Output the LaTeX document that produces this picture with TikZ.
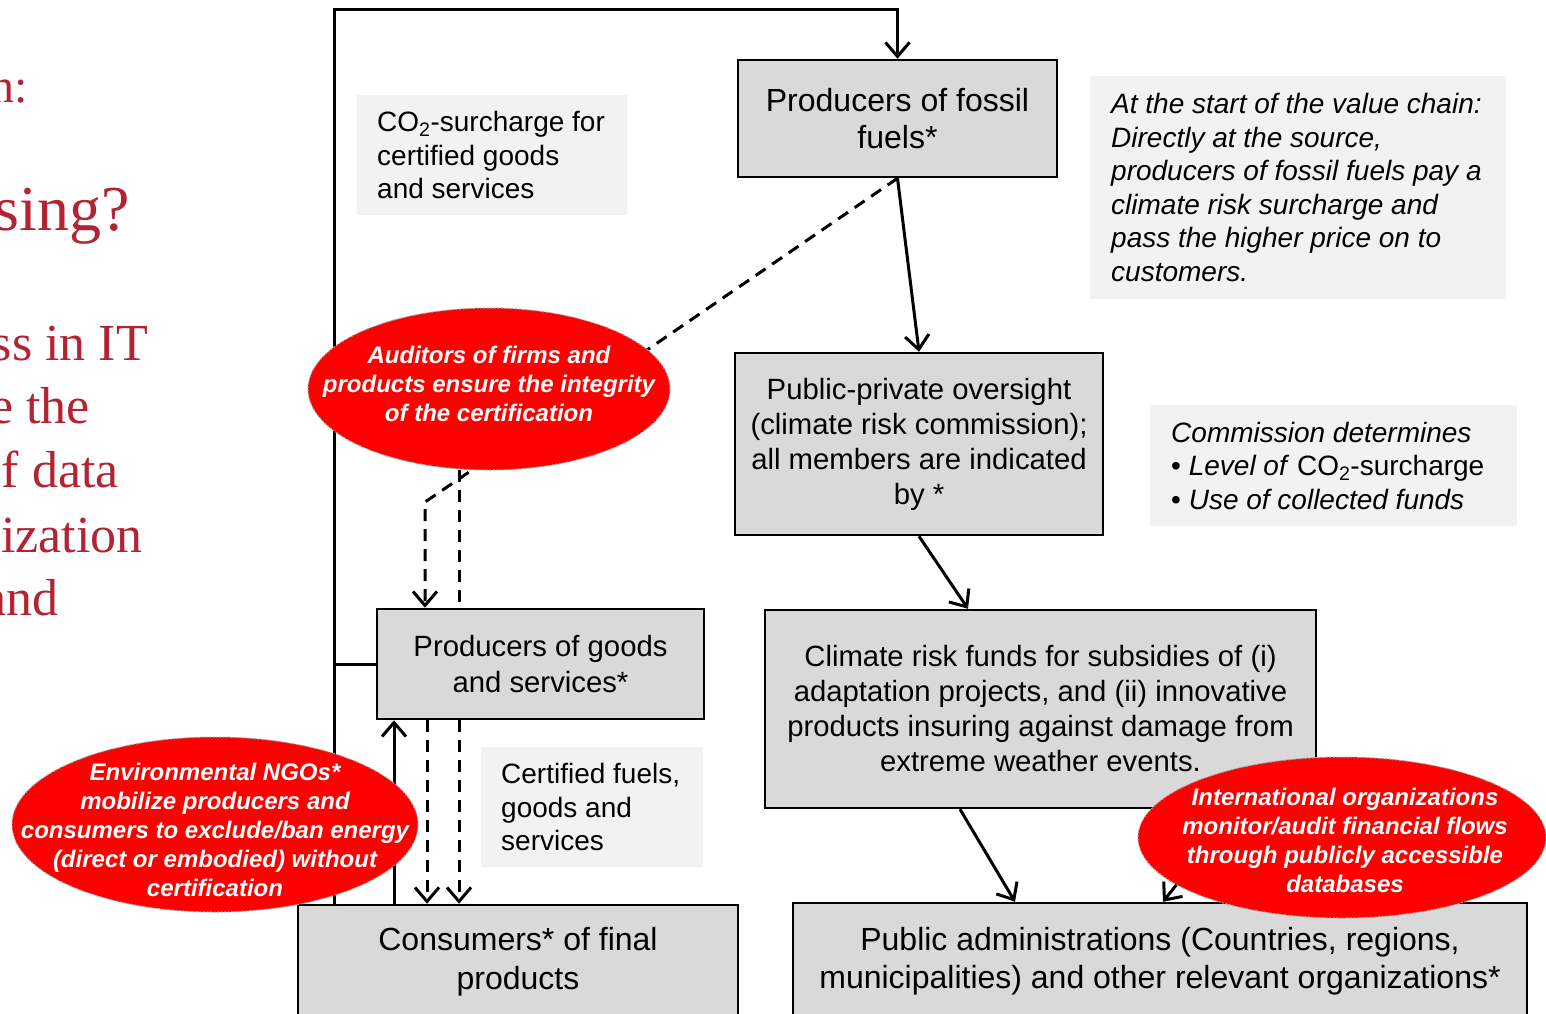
\documentclass[tikz,border=0pt]{standalone}
\usepackage{fontspec}
\setmainfont{Liberation Sans}
\newfontfamily\serifred{Liberation Serif}
\usetikzlibrary{arrows.meta,shapes.geometric}
\definecolor{boxgray}{RGB}{217,217,217}
\definecolor{notegray}{RGB}{242,242,242}
\definecolor{titlered}{RGB}{178,36,52}
\definecolor{ovalred}{RGB}{255,0,0}
\begin{document}
\begin{tikzpicture}[x=1pt,y=-1pt,
  box/.style={draw=black,line width=2.5pt,fill=boxgray,inner sep=0pt,align=center},
  bigtxt/.style={font=\fontsize{32}{37.5}\selectfont},
  midtxt/.style={font=\fontsize{29.3}{35}\selectfont},
  notebg/.style={fill=notegray,inner sep=0pt,anchor=north west},
  notetxt/.style={anchor=west,inner sep=0pt,align=left,font=\fontsize{28}{33.5}\selectfont},
  oval/.style={ellipse,fill=ovalred,draw=gray!70,line width=1pt,dash pattern=on 2pt off 1.5pt,inner sep=0pt},
  ovaltxt/.style={text=white,font=\bfseries\itshape\fontsize{24}{29}\selectfont,align=center,inner sep=0pt},
  conn/.style={line width=3pt},
  arr/.style={conn,-{Straight Barb[length=14pt,width=24pt]}},
  dsh/.style={conn,dash pattern=on 12pt off 8pt},
  redtxt/.style={text=titlered,inner sep=0pt,anchor=base east}]
\useasboundingbox (0,0) rectangle (1546,1013);
\fill[white] (0,0) rectangle (1546,1013);

% left red text
\node[redtxt,font=\serifred\fontsize{48}{58}\selectfont] (t1) at (28,102) {n:};
\node[redtxt,font=\serifred\fontsize{64}{76}\selectfont] (t2) at (130,230) {sing?};
\node[redtxt,font=\serifred\fontsize{52}{64}\selectfont] (t3) at (148,360) {ss in IT};
\node[redtxt,font=\serifred\fontsize{52}{64}\selectfont] (t4) at (90,423) {e the};
\node[redtxt,font=\serifred\fontsize{52}{64}\selectfont] (t5) at (119,487) {f data};
\node[redtxt,font=\serifred\fontsize{52}{64}\selectfont] (t6) at (143,552) {ization};
\node[redtxt,font=\serifred\fontsize{52}{64}\selectfont] (t7) at (59,615) {and};

% note boxes
\node[notebg,minimum width=270pt,minimum height=120pt] (co2bg) at (357,95) {};
\node[notetxt] (co2) at ([xshift=20pt]co2bg.west) {CO\textsubscript{2}-surcharge for\\certified goods\\and services};
\node[notebg,minimum width=416pt,minimum height=223pt] (startbg) at (1090,76) {};
\node[notetxt,font=\itshape\fontsize{28}{33.5}\selectfont] (start) at ([xshift=21pt]startbg.west) {At the start of the value chain:\\Directly at the source,\\producers of fossil fuels pay a\\climate risk surcharge and\\pass the higher price on to\\customers.};
\node[notebg,minimum width=367pt,minimum height=121pt] (commbg) at (1150,405) {};
\node[notetxt] (comm) at ([xshift=21pt]commbg.west) {\textit{Commission determines}\\\textbullet\ \textit{Level of} CO\textsubscript{2}-surcharge\\\textbullet\ \textit{Use of collected funds}};
\node[notebg,minimum width=222pt,minimum height=120pt] (certbg) at (481,747) {};
\node[notetxt] (cert) at ([xshift=20pt]certbg.west) {Certified fuels,\\goods and\\services};

% boxes
\node[box,bigtxt,minimum width=319pt,minimum height=117pt] (fossil) at (897.5,118.5) {Producers of fossil\\fuels*};
\node[box,midtxt,minimum width=368pt,minimum height=182pt] (over) at (919,444) {Public-private oversight\\(climate risk commission);\\all members are indicated\\by *};
\node[box,midtxt,minimum width=551pt,minimum height=198pt] (clim) at (1040.5,709) {Climate risk funds for subsidies of (i)\\adaptation projects, and (ii) innovative\\products insuring against damage from\\extreme weather events.};
\node[box,bigtxt,minimum width=734pt,minimum height=116pt] (admin) at (1160,961) {Public administrations (Countries, regions,\\municipalities) and other relevant organizations*};
\node[box,font=\fontsize{29.3}{36}\selectfont,minimum width=327pt,minimum height=110pt] (goods) at (540.5,664) {Producers of goods\\and services*};
\node[box,font=\fontsize{32}{39}\selectfont,minimum width=440pt,minimum height=113pt] (cons) at (518,961.5) {Consumers* of final\\products};

% helper coordinates
\coordinate (loop) at (334,9);
\coordinate (xup) at (394,0);
\coordinate (xd1) at (427,0);
\coordinate (xd2) at (459,0);
\coordinate (xa1) at (425,0);
\coordinate (bend1) at (472,470);
\coordinate (bend2) at (425,502);
\coordinate (audb) at (459,470);
\coordinate (xc) at (968,0);
\coordinate (xcs) at (960,0);
\coordinate (xadm) at (1015,0);
\coordinate (xint) at (1163,0);
\coordinate (intsrc) at (1200,855);

% connectors
\draw[arr] (cons.north -| loop) -- (loop) -| (fossil.north);
\draw[conn] (goods.west) -- (goods.west -| loop);
\draw[arr] (cons.north -| xup) -- (goods.south -| xup);
\draw[dsh,-{Straight Barb[length=14pt,width=24pt]}] (goods.south -| xd1) -- (cons.north -| xd1);
\draw[dsh,-{Straight Barb[length=14pt,width=24pt]}] (goods.south -| xd2) -- (cons.north -| xd2);
\draw[dsh,-{Straight Barb[length=14pt,width=24pt]}] (fossil.south) -- (bend1) -- (bend2) -- (goods.north -| xa1);
\draw[dsh] (audb) -- (goods.north -| xd2);
\draw[arr] (fossil.south) -- (over.north);
\draw[arr] (over.south) -- (clim.north -| xc);
\draw[arr] (clim.south -| xcs) -- (admin.north -| xadm);
\draw[arr] (intsrc) -- (admin.north -| xint);

% ovals
\node[oval,minimum width=362pt,minimum height=162pt] (aud) at (489,389) {};
\node[ovaltxt] (audt) at (489,384) {Auditors of firms and\\products ensure the integrity\\of the certification};
\node[oval,minimum width=406pt,minimum height=175pt] (ngo) at (215,824.5) {};
\node[ovaltxt] (ngot) at (215,830) {Environmental NGOs*\\mobilize producers and\\consumers to exclude/ban energy\\(direct or embodied) without\\certification};
\node[oval,minimum width=408pt,minimum height=161pt] (intl) at (1342,837.5) {};
\node[ovaltxt] (intlt) at (1345,840) {International organizations\\monitor/audit financial flows\\through publicly accessible\\databases};
\end{tikzpicture}
\end{document}
